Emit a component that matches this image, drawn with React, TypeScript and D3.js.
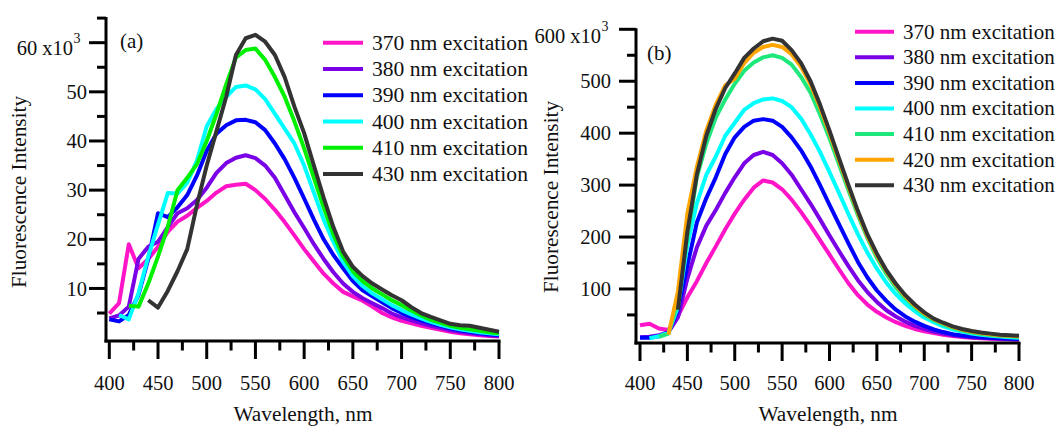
import React from 'react';
import * as d3 from 'd3';

// ---------------- DATA ----------------
const wavelengths = [400, 410, 420, 430, 440, 450, 460, 470, 480, 490, 500, 510, 520, 530, 540, 550, 560, 570, 580, 590, 600, 610, 620, 630, 640, 650, 660, 670, 680, 690, 700, 710, 720, 730, 740, 750, 760, 770, 780, 790, 800];

// Panel (a) — values in units of 10^3
const a370 = [4.9, 7.0, 19.0, 14.1, 16.0, 18.5, 21.5, 23.6, 24.8, 26.4, 27.8, 29.5, 30.8, 31.1, 31.3, 30.0, 28.2, 26.0, 23.5, 20.8, 18.0, 15.5, 13.0, 11.0, 9.3, 8.4, 7.5, 6.3, 5.0, 4.1, 3.4, 2.9, 2.4, 2.0, 1.6, 1.2, 0.9, 0.7, 0.5, 0.3, 0.2];
const a380 = [3.9, 4.5, 6.3, 16.0, 18.5, 19.5, 22.5, 25.3, 26.3, 28.0, 30.5, 33.5, 35.5, 36.6, 37.1, 36.5, 35.0, 32.5, 29.0, 25.5, 22.3, 19.0, 16.0, 13.3, 11.0, 9.3, 8.0, 7.0, 6.0, 4.9, 4.1, 3.5, 2.9, 2.4, 2.0, 1.5, 1.2, 0.9, 0.7, 0.5, 0.3];
const a390 = [3.7, 3.3, 4.6, 8.7, 16.0, 25.3, 24.5, 26.5, 29.0, 33.0, 38.0, 41.5, 43.2, 44.2, 44.3, 43.8, 42.2, 39.5, 36.3, 32.5, 28.3, 24.0, 20.0, 16.8, 14.1, 11.5, 9.6, 8.4, 7.2, 6.0, 5.0, 4.2, 3.5, 2.9, 2.4, 1.9, 1.5, 1.2, 0.9, 0.7, 0.5];
const a400 = [null, 4.6, 3.7, 9.0, 16.5, 23.0, 29.4, 29.3, 31.5, 36.0, 43.0, 46.5, 49.0, 51.0, 51.3, 50.5, 48.5, 45.5, 42.5, 39.5, 35.0, 29.5, 24.0, 19.5, 15.4, 12.5, 10.5, 9.0, 7.8, 6.6, 5.6, 4.7, 3.9, 3.2, 2.6, 2.1, 1.7, 1.4, 1.1, 0.9, 0.7];
const a410 = [null, null, 6.5, 6.3, 11.0, 16.5, 22.5, 30.0, 32.5, 35.3, 40.0, 45.5, 51.5, 57.0, 58.5, 58.8, 56.5, 53.0, 49.0, 44.0, 38.5, 32.5, 26.5, 21.0, 16.5, 13.5, 11.5, 10.0, 8.8, 7.6, 6.6, 5.5, 4.5, 3.6, 3.0, 2.4, 2.0, 1.7, 1.4, 1.1, 0.9];
const a430 = [null, null, null, null, 7.6, 6.1, 9.5, 13.5, 18.0, 27.0, 35.0, 42.0, 49.0, 57.5, 60.9, 61.6, 60.2, 57.5, 53.0, 47.0, 41.6, 35.0, 28.5, 22.5, 17.5, 14.4, 12.5, 11.0, 9.8, 8.6, 7.6, 6.2, 5.0, 4.2, 3.5, 2.8, 2.5, 2.4, 2.0, 1.6, 1.2];

// Panel (b) — values in units of 10^3
const b370 = [30, 33, 24, 21, 48, 84, 115, 150, 182, 215, 245, 272, 295, 309, 305, 292, 272, 248, 222, 194, 166, 138, 111, 88, 70, 56, 45, 36, 29, 23, 18.5, 15, 12, 9.5, 7.5, 6, 5, 4, 3, 2.5, 2];
const b380 = [7, 8, 11, 17, 45, 120, 180, 222, 252, 285, 315, 342, 358, 364, 358, 342, 320, 292, 264, 234, 203, 173, 144, 117, 94, 75, 59, 47, 37, 29, 23, 18, 14, 11, 9, 7, 6, 5, 4, 3.5, 3];
const b390 = [6, 6, 9, 16, 60, 145, 228, 275, 315, 360, 392, 412, 424, 427, 424, 412, 392, 367, 336, 300, 262, 225, 188, 152, 122, 97, 77, 60, 47, 37, 29, 22, 17, 13, 10.5, 8.5, 7, 6, 5, 4, 3.5];
const b400 = [null, 5, 9, 16, 65, 185, 265, 320, 355, 395, 420, 445, 458, 465, 467, 462, 450, 428, 398, 364, 325, 285, 244, 205, 170, 139, 112, 90, 72, 57, 45, 36, 28, 22, 18, 14, 12, 10, 8.5, 7, 6];
const b410 = [null, null, 8, 14, 75, 200, 315, 380, 430, 465, 495, 520, 536, 546, 550, 545, 532, 508, 478, 436, 390, 340, 290, 242, 198, 160, 129, 103, 82, 65, 51, 40, 32, 25, 20, 16, 13.5, 11.5, 10, 9, 8];
const b420 = [null, null, null, 12, 95, 245, 335, 405, 455, 492, 505, 535, 555, 566, 570, 566, 552, 528, 494, 450, 400, 348, 296, 247, 202, 165, 134, 108, 86, 68, 53, 42, 34, 27, 22, 18, 15, 13, 11, 10, 9];
const b430 = [null, null, null, null, 60, 210, 320, 395, 447, 487, 515, 545, 563, 577, 582, 578, 560, 535, 500, 455, 405, 352, 300, 250, 205, 168, 136, 110, 88, 70, 55, 43, 35, 28, 23, 19, 16, 14, 12, 11, 10];

const labelsA = ['370 nm excitation', '380 nm excitation', '390 nm excitation', '400 nm excitation', '410 nm excitation', '430 nm excitation'];
const labelsB = ['370 nm excitation', '380 nm excitation', '390 nm excitation', '400 nm excitation', '410 nm excitation', '420 nm excitation', '430 nm excitation'];

const xTickValues = [400, 450, 500, 550, 600, 650, 700, 750, 800];
const xMinorValues = [425, 475, 525, 575, 625, 675, 725, 775];
const yTicksA = [10, 20, 30, 40, 50, 60];
const yMinorA = [5, 15, 25, 35, 45, 55, 65];
const yTicksB = [100, 200, 300, 400, 500, 600];
const yMinorB = [50, 150, 250, 350, 450, 550];

// ---------------- STYLE ----------------
const colorsA = ['#ff14c8', '#7a00e6', '#0000ff', '#00ffff', '#00f000', '#333333'];
const colorsB = ['#ff14c8', '#7a00e6', '#0000ff', '#00ffff', '#1ee87c', '#ffa500', '#333333'];
const FONT = "Liberation Serif, DejaVu Serif, serif";
const txt = { fontFamily: FONT };

type PanelCfg = {
  series: (number | null)[][];
  labels: string[];
  colors: string[];
  xRange: [number, number];
  yDomain: [number, number];
  yRange: [number, number];
  yTicks: number[];
  yMinor: number[];
  yAxisX: number;
  xAxisY: number;
  yTopVal: number;
  yLabelEnd: number;
  topMain: string;
  topMainX: number;
  topMainY: number;
  topSupY: number;
  yTitleX: number;
  yTitleY: number;
  xTitleX: number;
  tag: string;
  tagX: number;
  tagY: number;
  legX0: number;
  legX1: number;
  legTx: number;
  legY0: number;
  legDy: number;
};

function Panel({ c }: { c: PanelCfg }) {
  const x = d3.scaleLinear().domain([400, 800]).range(c.xRange);
  const y = d3.scaleLinear().domain(c.yDomain).range(c.yRange);
  const line = d3
    .line<[number, number | null]>()
    .defined((d) => d[1] !== null)
    .x((d) => x(d[0]))
    .y((d) => y(d[1] as number));
  const topLabelVal = c.yTicks[c.yTicks.length - 1];
  return (
    <g>
      {c.series.map((s, i) => (
        <path
          key={i}
          d={line(wavelengths.map((w, j) => [w, s[j]] as [number, number | null])) || ''}
          fill="none"
          stroke={c.colors[i]}
          strokeWidth={4}
          strokeLinejoin="round"
          strokeLinecap="butt"
        />
      ))}
      <line x1={c.yAxisX} x2={c.yAxisX} y1={y(c.yTopVal) - 1} y2={c.xAxisY + 1.5} stroke="#000" strokeWidth={3} />
      <line x1={c.yAxisX - 1.5} x2={x(800) + 1.5} y1={c.xAxisY} y2={c.xAxisY} stroke="#000" strokeWidth={3} />
      {xTickValues.map((t) => (
        <line key={'xt' + t} x1={x(t)} x2={x(t)} y1={c.xAxisY} y2={c.xAxisY + 18} stroke="#000" strokeWidth={3} />
      ))}
      {xMinorValues.map((t) => (
        <line key={'xm' + t} x1={x(t)} x2={x(t)} y1={c.xAxisY} y2={c.xAxisY + 9.5} stroke="#000" strokeWidth={3} />
      ))}
      {xTickValues.map((t) => (
        <text key={'xl' + t} x={x(t)} y={390} textAnchor="middle" fontSize={20.5} style={txt} fill="#111">
          {t}
        </text>
      ))}
      {c.yTicks.map((t) => (
        <line key={'yt' + t} x1={c.yAxisX - 17} x2={c.yAxisX} y1={y(t)} y2={y(t)} stroke="#000" strokeWidth={3} />
      ))}
      {c.yMinor.map((t) => (
        <line key={'ym' + t} x1={c.yAxisX - 9} x2={c.yAxisX} y1={y(t)} y2={y(t)} stroke="#000" strokeWidth={3} />
      ))}
      {c.yTicks
        .filter((t) => t !== topLabelVal)
        .map((t) => (
          <text key={'yl' + t} x={c.yLabelEnd} y={y(t)} dy="0.35em" textAnchor="end" fontSize={20.5} style={txt} fill="#111">
            {t}
          </text>
        ))}
      <text x={c.topMainX} y={c.topMainY} textAnchor="end" fontSize={20.5} style={txt} fill="#111">
        {c.topMain}
      </text>
      <text x={c.topMainX + 0.5} y={c.topSupY} textAnchor="start" fontSize={14} style={txt} fill="#111">
        3
      </text>
      <text
        transform={`translate(${c.yTitleX},${c.yTitleY}) rotate(-90)`}
        textAnchor="middle"
        dy="0.35em"
        fontSize={21.3}
        style={txt}
        fill="#111"
      >
        Fluorescence Intensity
      </text>
      <text x={c.xTitleX} y={421} textAnchor="middle" fontSize={21.3} style={txt} fill="#111">
        Wavelength, nm
      </text>
      <text x={c.tagX} y={c.tagY} fontSize={21} style={txt} fill="#111">
        {c.tag}
      </text>
      {c.labels.map((lab, i) => {
        const ly = c.legY0 + i * c.legDy;
        return (
          <g key={'lg' + i}>
            <line x1={c.legX0} x2={c.legX1} y1={ly} y2={ly} stroke={c.colors[i]} strokeWidth={4} />
            <text x={c.legTx} y={ly} dy="0.33em" fontSize={c.legDy > 26 ? 21.6 : 21} style={txt} fill="#111">
              {lab}
            </text>
          </g>
        );
      })}
    </g>
  );
}

const panelA: PanelCfg = {
  series: [a370, a380, a390, a400, a410, a430],
  labels: labelsA,
  colors: colorsA,
  xRange: [109.3, 499],
  yDomain: [0, 65],
  yRange: [337.6, 18.1],
  yTicks: yTicksA,
  yMinor: yMinorA,
  yAxisX: 106,
  xAxisY: 341,
  yTopVal: 65,
  yLabelEnd: 87,
  topMain: '60 x10',
  topMainX: 73,
  topMainY: 55,
  topSupY: 43,
  yTitleX: 19,
  yTitleY: 192,
  xTitleX: 303,
  tag: '(a)',
  tagX: 120,
  tagY: 48,
  legX0: 323,
  legX1: 363,
  legTx: 372,
  legY0: 42.7,
  legDy: 26.25,
};

const panelB: PanelCfg = {
  series: [b370, b380, b390, b400, b410, b420, b430],
  labels: labelsB,
  colors: colorsB,
  xRange: [640, 1019],
  yDomain: [0, 600],
  yRange: [340.9, 29.3],
  yTicks: yTicksB,
  yMinor: yMinorB,
  yAxisX: 636,
  xAxisY: 343,
  yTopVal: 600,
  yLabelEnd: 611,
  topMain: '600 x10',
  topMainX: 601,
  topMainY: 43,
  topSupY: 31,
  yTitleX: 551,
  yTitleY: 197,
  xTitleX: 828,
  tag: '(b)',
  tagX: 647,
  tagY: 60,
  legX0: 855,
  legX1: 894,
  legTx: 903,
  legY0: 31.7,
  legDy: 25.6,
};

export default function App() {
  return (
    <svg
      width={1056}
      height={426}
      viewBox="0 0 1056 426"
      style={{ position: 'absolute', left: 0, top: 0, background: '#fff', display: 'block' }}
    >
      <rect x={0} y={0} width={1056} height={426} fill="#fff" />
      <Panel c={panelA} />
      <Panel c={panelB} />
    </svg>
  );
}
